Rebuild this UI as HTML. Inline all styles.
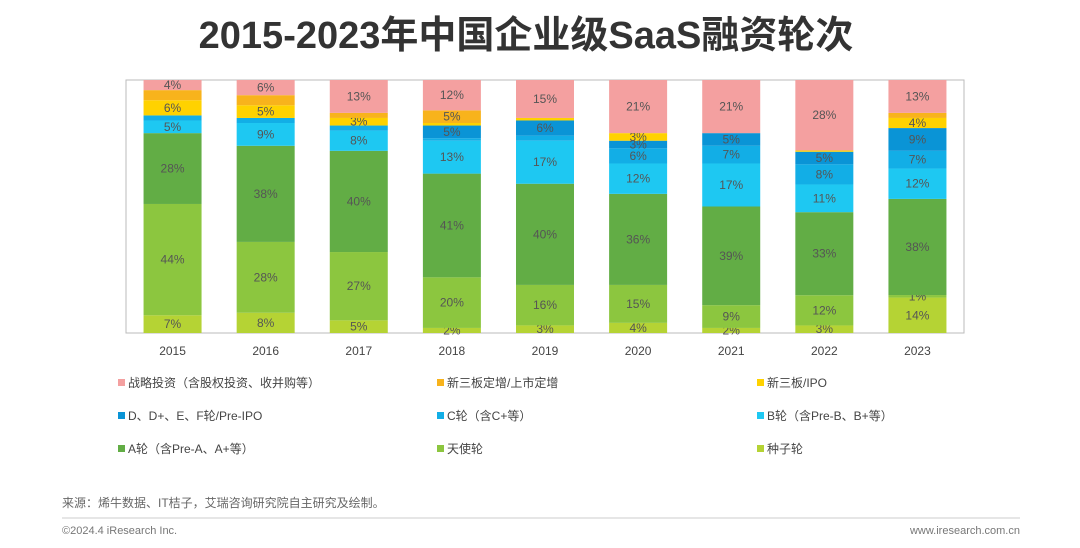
<!DOCTYPE html>
<html><head><meta charset="utf-8"><style>
body{margin:0;width:1080px;height:548px;background:#fff;overflow:hidden;font-family:"Liberation Sans","Noto Sans CJK SC",sans-serif;}
</style></head><body>
<svg id="chart" width="1080" height="548" style="position:absolute;left:0;top:0">
<text x="526" y="48" text-anchor="middle" font-size="38" font-weight="bold" fill="#333" font-family="Liberation Sans,Noto Sans CJK SC,sans-serif">2015-2023年中国企业级SaaS融资轮次</text>
<rect x="126" y="80" width="838" height="253" fill="none" stroke="#bbb" stroke-width="1"/>
<g id="bars"></g><g id="xlabels"></g><g id="legend"></g>
<text x="62" y="507" font-size="12" fill="#666">来源：烯牛数据、IT桔子，艾瑞咨询研究院自主研究及绘制。</text>
<line x1="62" y1="518" x2="1020" y2="518" stroke="#ccc" stroke-width="1"/>
<text x="62" y="534" font-size="11" fill="#777">©2024.4 iResearch Inc.</text>
<text x="1020" y="534" font-size="11" fill="#777" text-anchor="end">www.iresearch.com.cn</text>
</svg>
<script>
const years=["2015","2016","2017","2018","2019","2020","2021","2022","2023"];
const seriesNames=["种子轮","天使轮","A轮（含Pre-A、A+等）","B轮（含Pre-B、B+等）","C轮（含C+等）","D、D+、E、F轮/Pre-IPO","新三板/IPO","新三板定增/上市定增","战略投资（含股权投资、收并购等）"];
const seed=[7,8,5,2,3,4,2,3,14];
const angel=[44,28,27,20,16,15,9,12,1];
const roundA=[28,38,40,41,40,36,39,33,38];
const roundB=[5,9,8,13,17,12,17,11,12];
const roundC=[2,2,2,1,2,6,7,8,7];
const roundD=[0,0,0,5,6,3,5,5,9];
const neeq=[6,5,3,1,1,3,0,0.5,4];
const neeqPlus=[4,4,2,5,0,0,0,0,2];
const strategic=[4,6,13,12,15,21,21,28,13];
const series=[seed,angel,roundA,roundB,roundC,roundD,neeq,neeqPlus,strategic];
const colors=["#b5d334","#8cc63f","#62ad45","#1ec8f2","#12aee6","#0a94d6","#ffd200","#f8b31c","#f4a0a0"];
const minLabel=[1,1,1,1,3,3,3,5,1];
const NS="http://www.w3.org/2000/svg";
const top0=80,bot=333,left=126,right=964,barW=58;
const band=(right-left)/years.length;
const xC=i=>left+band*(i+0.5);
const yS=v=>bot-(v/100)*(bot-top0);
const bars=document.getElementById('bars');
years.forEach((yr,i)=>{
  let total=0;series.forEach(s=>total+=s[i]);
  const k=100/total;let cum=0;
  series.forEach((s,j)=>{
    const v=s[i]*k;if(v<=0)return;
    const y1=yS(cum+v),y0=yS(cum);cum+=v;
    const r=document.createElementNS(NS,'rect');
    r.setAttribute('x',xC(i)-barW/2);r.setAttribute('y',y1);r.setAttribute('width',barW);r.setAttribute('height',y0-y1);r.setAttribute('fill',colors[j]);
    
    
    bars.appendChild(r);
    if(s[i]>=minLabel[j]){
      const t=document.createElementNS(NS,'text');
      t.setAttribute('x',xC(i));t.setAttribute('y',(y0+y1)/2+4);t.setAttribute('text-anchor','middle');t.setAttribute('font-size','12');t.setAttribute('fill','#555');
      t.textContent=Math.round(s[i])+'%';
      
      
      bars.appendChild(t);
    }
  });
  const xl=document.createElementNS(NS,'text');
  xl.setAttribute('x',xC(i));xl.setAttribute('y',355);xl.setAttribute('text-anchor','middle');xl.setAttribute('font-size','12');xl.setAttribute('fill','#444');
  xl.textContent=yr;
  
  
  document.getElementById('xlabels').appendChild(xl);
});
const legendOrder=[8,7,6,5,4,3,2,1,0];
const lg=document.getElementById('legend');
legendOrder.forEach((j,n)=>{
  const col=n%3,row=Math.floor(n/3);
  const x=[118,437,757][col],y=385+row*33;
  const r=document.createElementNS(NS,'rect');
  r.setAttribute('x',x);r.setAttribute('y',y-6);r.setAttribute('width',7);r.setAttribute('height',7);r.setAttribute('fill',colors[j]);
  
  
  lg.appendChild(r);
  const t=document.createElementNS(NS,'text');
  t.setAttribute('x',x+10);t.setAttribute('y',y+2);t.setAttribute('font-size','12');t.setAttribute('fill','#444');
  t.textContent=seriesNames[j];
  
  
  lg.appendChild(t);
});
</script>
</body></html>
